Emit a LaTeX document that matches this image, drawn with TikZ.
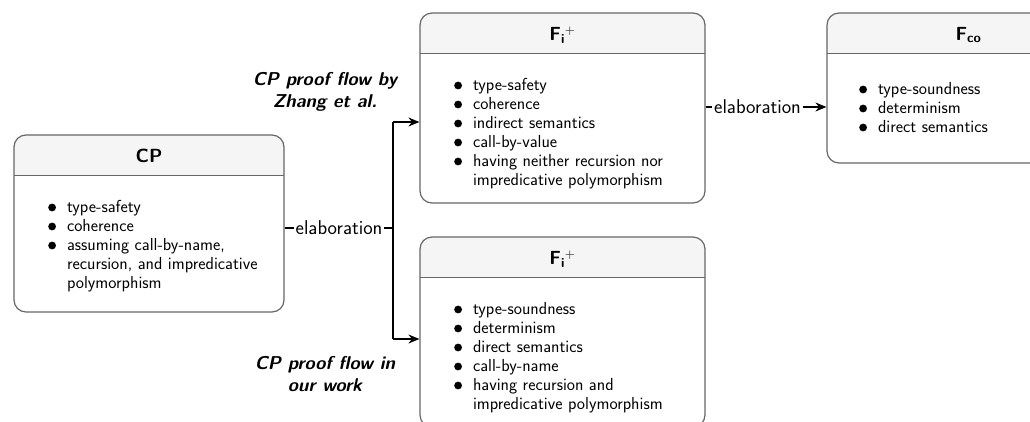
\documentclass[tikz,border=0pt]{standalone}
\usetikzlibrary{arrows.meta}
\definecolor{boxgray}{HTML}{666666}
\definecolor{headgray}{HTML}{F5F5F5}
\newcommand{\bul}{\tikz[baseline=-4.5pt]\fill (0,0) circle (3.9pt);}

\begin{document}
\begin{tikzpicture}[x=1pt,y=-1pt,
  every node/.style={font=\sffamily\fontsize{17.4}{19}\selectfont},
  box/.style={draw=boxgray,line width=1.2pt,rounded corners=12pt,
    path picture={\fill[headgray,sharp corners] ([yshift=-40.5pt]path picture bounding box.north west) rectangle (path picture bounding box.north east);
      \draw[boxgray,line width=1.2pt,sharp corners] ([yshift=-40.5pt]path picture bounding box.north west) -- ([yshift=-40.5pt]path picture bounding box.north east);}},
  title/.style={font=\sffamily\bfseries\fontsize{19}{20}\selectfont},
  items/.style={anchor=base west,inner sep=0pt},
  flow/.style={align=center,font=\sffamily\bfseries\itshape\fontsize{18.6}{22}\selectfont},
  lab/.style={inner sep=1.5pt,font=\sffamily\fontsize{20}{20}\selectfont},
  conn/.style={line width=1.3pt},
  arr/.style={conn,-{Stealth[length=11pt,width=9pt]}}]
\useasboundingbox (0,0) rectangle (1030,421);

\node[box,minimum width=270pt,minimum height=177pt] (cp) at (149,223.5) {};
\node[box,minimum width=285pt,minimum height=190pt] (fia) at (562.5,108) {};
\node[box,minimum width=285pt,minimum height=190pt] (fib) at (562.5,332) {};
\node[box,minimum width=283pt,minimum height=150pt] (fco) at (968.5,88) {};

\node[title] (cpt) at (149,156) {CP};
\node[title] (fiat) at (562.5,35) {F\textsubscript{i}\textsuperscript{\mdseries+}};
\node[title] (fibt) at (562.5,259) {F\textsubscript{i}\textsuperscript{\mdseries+}};
\node[title] (fcot) at (968.5,35) {F\textsubscript{co}};

\node[items] (cpl) at (48,212) {\begin{tabular}[t]{@{}l@{\hspace{11pt}}l@{}}
\bul & type-safety\\ \bul & coherence\\ \bul & assuming call-by-name,\\ & recursion, and impredicative\\ & polymorphism\end{tabular}};
\node[items] (fial) at (454,90) {\begin{tabular}[t]{@{}l@{\hspace{11pt}}l@{}}
\bul & type-safety\\ \bul & coherence\\ \bul & indirect semantics\\ \bul & call-by-value\\ \bul & having neither recursion nor\\ & impredicative polymorphism\end{tabular}};
\node[items] (fibl) at (454,314) {\begin{tabular}[t]{@{}l@{\hspace{11pt}}l@{}}
\bul & type-soundness\\ \bul & determinism\\ \bul & direct semantics\\ \bul & call-by-name\\ \bul & having recursion and\\ & impredicative polymorphism\end{tabular}};
\node[items] (fcol) at (859,94) {\begin{tabular}[t]{@{}l@{\hspace{11pt}}l@{}}
\bul & type-soundness\\ \bul & determinism\\ \bul & direct semantics\end{tabular}};

\node[flow] (flowa) at (325,92) {CP proof flow by\\Zhang et al.};
\node[flow] (flowb) at (325,374) {CP proof flow in\\our work};

\node[lab] (el1) at (339,228) {elaboration};
\node[lab] (el2) at (757.5,107) {elaboration};
\coordinate (up) at (393,122);
\coordinate (dn) at (393,339);

\draw[conn] (cp.east |- el1) -- (el1.west);
\draw[conn] (el1.east) -- (el1 -| up);
\draw[conn] (up) -- (dn);
\draw[arr] (up) -- (up -| fia.west);
\draw[arr] (dn) -- (dn -| fib.west);
\draw[conn] (fia.east |- el2) -- (el2.west);
\draw[arr] (el2.east) -- (el2 -| fco.west);
\end{tikzpicture}
\end{document}
